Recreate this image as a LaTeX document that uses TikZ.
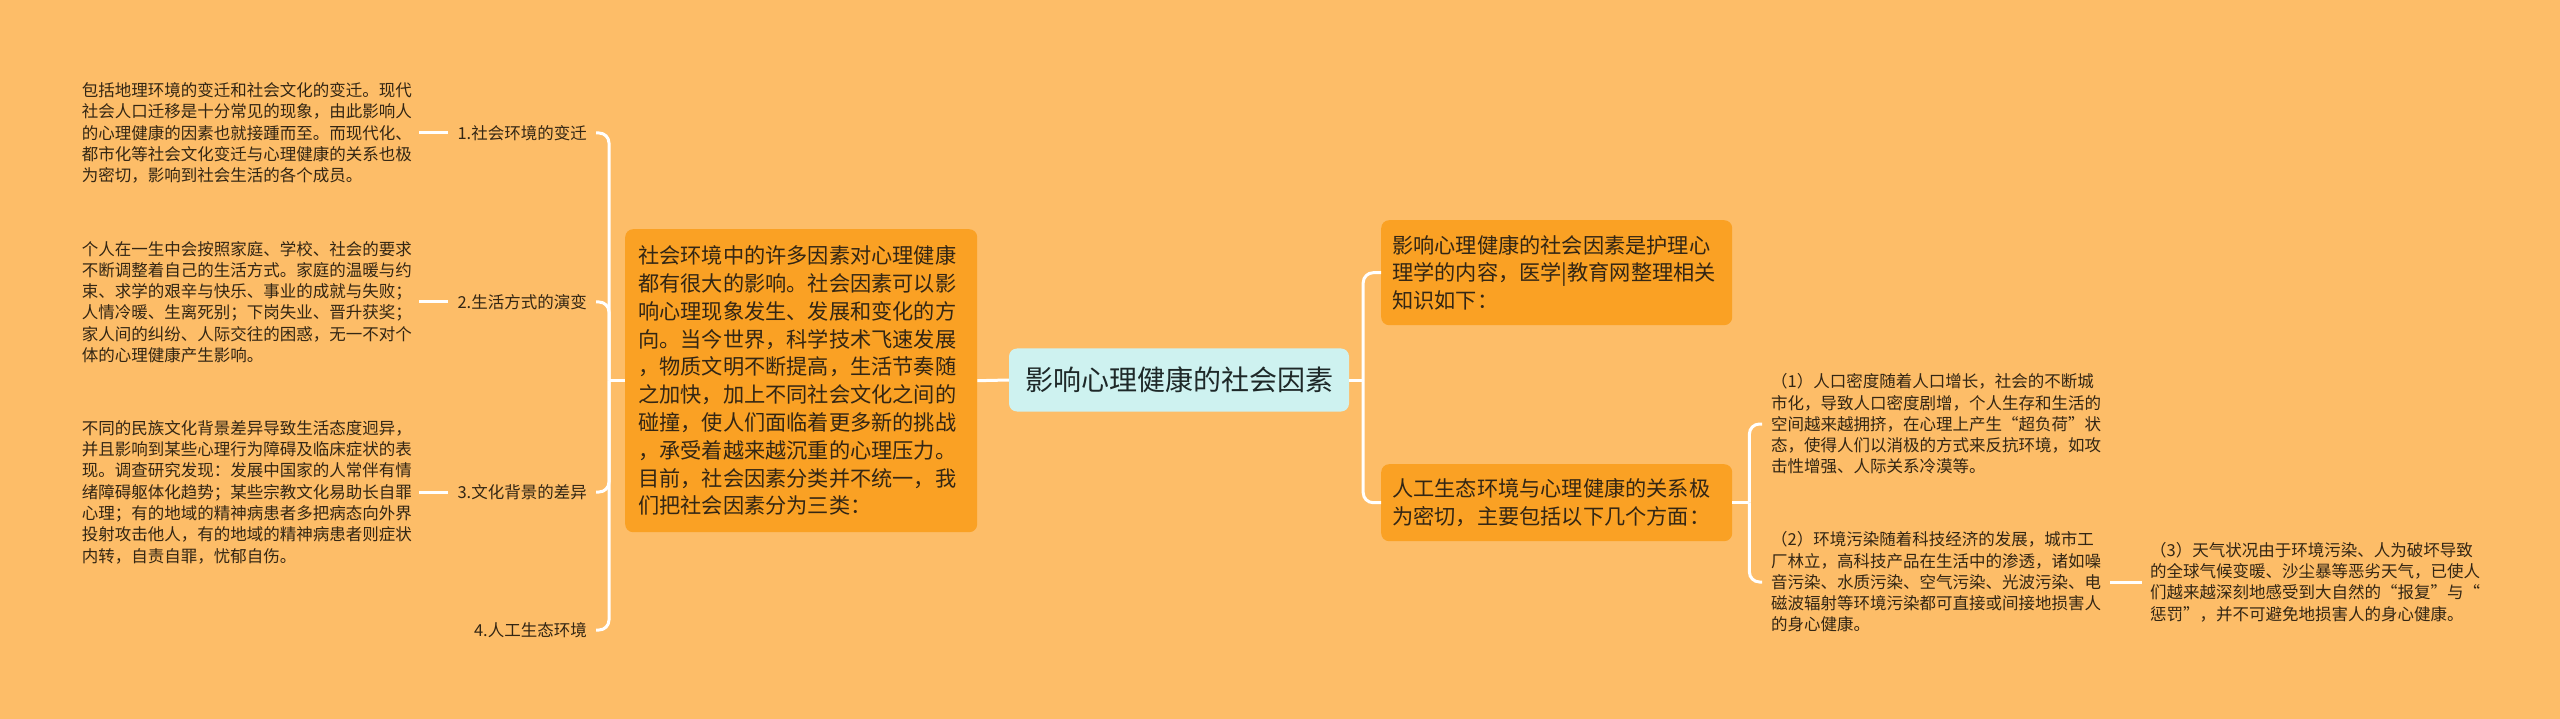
\documentclass[tikz,border=0pt]{standalone}
\usepackage{fontspec}
\setmainfont{Noto Sans CJK SC}
\definecolor{bg}{RGB}{253,189,104}
\definecolor{boxfill}{RGB}{250,161,36}
\definecolor{rootfill}{RGB}{206,242,240}
\definecolor{txt}{RGB}{51,38,20}
\definecolor{roottxt}{RGB}{30,40,40}
\begin{document}
\begin{tikzpicture}[x=1pt,y=-1pt,
 conn/.style={draw=white,line width=3pt},
 bigbox/.style={fill=boxfill,rounded corners=8pt,anchor=north west,inner ysep=0pt,align=left,text=txt,font=\fontsize{21.2}{27.8}\selectfont},
 root/.style={fill=rootfill,rounded corners=8pt,minimum width=340pt,minimum height=63pt,text=roottxt,font=\fontsize{28}{34}\selectfont,inner sep=0pt},
 desc/.style={align=left,text=txt,font=\fontsize{16.5}{21.3}\selectfont,inner xsep=7pt,inner ysep=0pt},
 lab/.style={text=txt,font=\fontsize{16.5}{20}\selectfont,inner xsep=9pt,inner ysep=2pt}]
\fill[bg] (0,0) rectangle (2560,719);
\useasboundingbox (0,0) rectangle (2560,719);

% root
\node[root] (root) at (1179,380) {影响心理健康的社会因素};

% left big box
\node[bigbox, inner xsep=13pt, text width=326pt, minimum height=303pt] (big) at (625,229) {社会环境中的许多因素对心理健康\\
都有很大的影响。社会因素可以影\\
响心理现象发生、发展和变化的方\\
向。当今世界，科学技术飞速发展\\
，物质文明不断提高，生活节奏随\\
之加快，加上不同社会文化之间的\\
碰撞，使人们面临着更多新的挑战\\
，承受着越来越沉重的心理压力。\\
目前，社会因素分类并不统一，我\\
们把社会因素分为三类：};

% left labels
\node[lab, anchor=east] (l1) at (596,133) {1.社会环境的变迁};
\node[lab, anchor=east] (l2) at (596,302) {2.生活方式的演变};
\node[lab, anchor=east] (l3) at (596,492) {3.文化背景的差异};
\node[lab, anchor=east] (l4) at (596,630) {4.人工生态环境};

% left descriptions
\node[desc, anchor=east] (t1) at (419,133) {包括地理环境的变迁和社会文化的变迁。现代\\
社会人口迁移是十分常见的现象，由此影响人\\
的心理健康的因素也就接踵而至。而现代化、\\
都市化等社会文化变迁与心理健康的关系也极\\
为密切，影响到社会生活的各个成员。};
\node[desc, anchor=east] (t2) at (419,302) {个人在一生中会按照家庭、学校、社会的要求\\
不断调整着自己的生活方式。家庭的温暖与约\\
束、求学的艰辛与快乐、事业的成就与失败；\\
人情冷暖、生离死别；下岗失业、晋升获奖；\\
家人间的纠纷、人际交往的困惑，无一不对个\\
体的心理健康产生影响。};
\node[desc, anchor=east] (t3) at (419,492) {不同的民族文化背景差异导致生活态度迥异，\\
并且影响到某些心理行为障碍及临床症状的表\\
现。调查研究发现：发展中国家的人常伴有情\\
绪障碍躯体化趋势；某些宗教文化易助长自罪\\
心理；有的地域的精神病患者多把病态向外界\\
投射攻击他人，有的地域的精神病患者则症状\\
内转，自责自罪，忧郁自伤。};

% right boxes
\node[bigbox, inner xsep=11pt, text width=329pt, minimum height=105pt] (r1) at (1381,220) {影响心理健康的社会因素是护理心\\
理学的内容，医学|教育网整理相关\\
知识如下：};
\node[bigbox, inner xsep=11pt, text width=329pt, minimum height=77pt] (r2) at (1381,464) {人工生态环境与心理健康的关系极\\
为密切，主要包括以下几个方面：};

% right descriptions
\node[desc, anchor=west, inner xsep=9pt] (c1) at (1762,424) {（1）人口密度随着人口增长，社会的不断城\\
市化，导致人口密度剧增，个人生存和生活的\\
空间越来越拥挤，在心理上产生“超负荷”状\\
态，使得人们以消极的方式来反抗环境，如攻\\
击性增强、人际关系冷漠等。};
\node[desc, anchor=west, inner xsep=9pt] (c2) at (1762,582) {（2）环境污染随着科技经济的发展，城市工\\
厂林立，高科技产品在生活中的渗透，诸如噪\\
音污染、水质污染、空气污染、光波污染、电\\
磁波辐射等环境污染都可直接或间接地损害人\\
的身心健康。};
\node[desc, anchor=west, inner xsep=8pt] (c3) at (2142,582) {（3）天气状况由于环境污染、人为破坏导致\\
的全球气候变暖、沙尘暴等恶劣天气，已使人\\
们越来越深刻地感受到大自然的“报复”与“\\
惩罚”，并不可避免地损害人的身心健康。};

% connectors left
\draw[conn] (root.west) -- (big.east);
\coordinate (jL) at ([xshift=-16pt]big.west);
\draw[conn] (big.west) -- (jL);
\draw[conn, rounded corners=10pt] (jL) |- (l1.east);
\draw[conn, rounded corners=10pt] (jL) |- (l2.east);
\draw[conn, rounded corners=10pt] (jL) |- (l3.east);
\draw[conn, rounded corners=10pt] (jL) |- (l4.east);
\draw[conn] (t1.east) -- (l1.west);
\draw[conn] (t2.east) -- (l2.west);
\draw[conn] (t3.east) -- (l3.west);

% connectors right
\coordinate (jR) at ([xshift=14pt]root.east);
\draw[conn] (root.east) -- (jR);
\draw[conn, rounded corners=10pt] (jR) |- (r1.west);
\draw[conn, rounded corners=10pt] (jR) |- (r2.west);
\coordinate (jR2) at ([xshift=17pt]r2.east);
\draw[conn] (r2.east) -- (jR2);
\draw[conn, rounded corners=10pt] (jR2) |- (c1.west);
\draw[conn, rounded corners=10pt] (jR2) |- (c2.west);
\draw[conn] (c2.east) -- (c3.west);
\end{tikzpicture}
\end{document}
